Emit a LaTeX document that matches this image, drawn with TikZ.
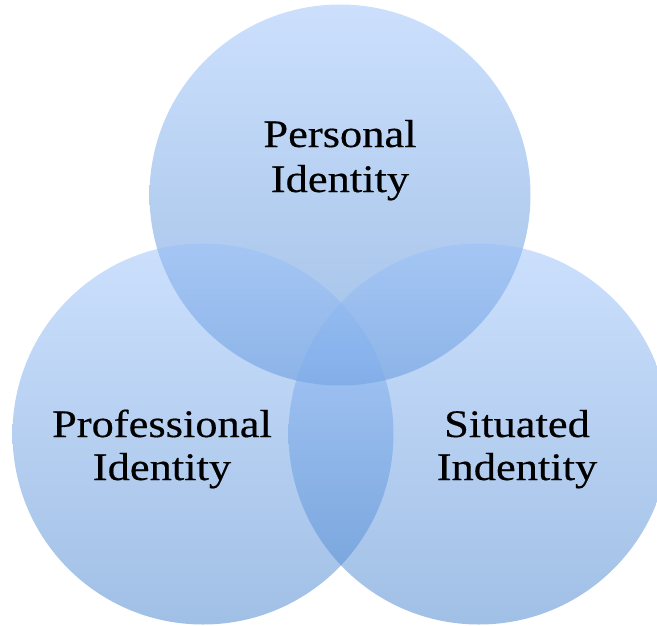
\documentclass[tikz,border=0pt]{standalone}
\usepackage{fontspec}
\newfontfamily\labelfont[FakeStretch=1.14,FakeBold=0.4]{Liberation Serif}
\definecolor{ctop}{RGB}{153,193,251}
\definecolor{cbot}{RGB}{67,129,205}
\tikzset{
  venn/.style={circle, minimum size=381pt, inner sep=0pt, draw=none,
    top color=ctop, bottom color=cbot, fill opacity=0.5},
  lbl/.style={font=\labelfont\fontsize{39pt}{45pt}\selectfont, align=center, text=black, inner sep=0pt, anchor=base}
}
\begin{document}
\begin{tikzpicture}[x=1pt,y=-1pt]
\useasboundingbox (0,0) rectangle (657,625);
\clip (0,0) rectangle (657,625);
\node[venn] (personal) at (340,195) {};
\node[venn] (professional) at (203,434) {};
\node[venn] (situated) at (479,434) {};
\node[lbl] (tp1) at (340,147) {Personal};
\node[lbl] (tp2) at (340,192) {Identity};
\node[lbl] (tl1) at (162,437) {Professional};
\node[lbl] (tl2) at (162,480) {Identity};
\node[lbl] (tr1) at (517,437) {Situated};
\node[lbl] (tr2) at (517,480) {Indentity};
\end{tikzpicture}
\end{document}
